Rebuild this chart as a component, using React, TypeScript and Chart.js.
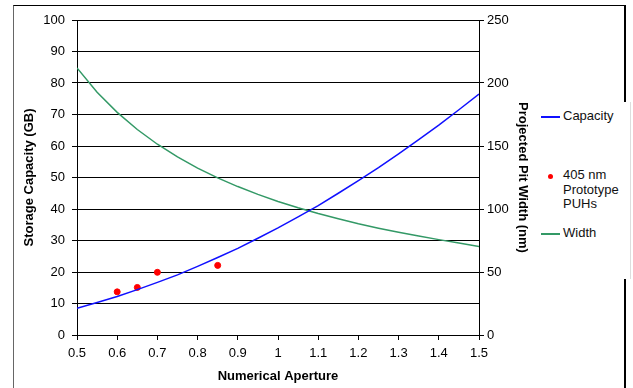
import React, { useEffect, useRef } from "react";
import { Chart, registerables } from "chart.js";

Chart.register(...registerables);

const apertures = [0.5, 0.55, 0.6, 0.65, 0.7, 0.75, 0.8, 0.85, 0.9, 0.95, 1.0, 1.05, 1.1, 1.15, 1.2, 1.25, 1.3, 1.35, 1.4, 1.45, 1.5];
const capacity = [8.5, 10.3, 12.2, 14.4, 16.7, 19.1, 21.8, 24.6, 27.5, 30.7, 34.0, 37.5, 41.1, 45.0, 49.0, 53.1, 57.5, 62.0, 66.6, 71.5, 76.5];
const pitWidth = [212, 192.7, 176.7, 163.1, 151.4, 141.3, 132.5, 124.7, 117.8, 111.6, 106, 101, 96.4, 92.2, 88.3, 84.8, 81.5, 78.5, 75.7, 73.1, 70.2];
const protoNA = [0.6, 0.65, 0.7, 0.85];
const protoCapacity = [13.7, 15.1, 19.9, 22.1];

const FONT = "'Liberation Sans', Arial, sans-serif";

export default function App() {
  const ref = useRef<HTMLCanvasElement>(null);
  useEffect(() => {
    if (!ref.current) return;
    const chart = new Chart(ref.current, {
      type: "line",
      data: {
        datasets: [
          {
            label: "Capacity",
            data: apertures.map((x, i) => ({ x, y: capacity[i] })),
            borderColor: "#1010ff",
            borderWidth: 1.5,
            pointRadius: 0,
            yAxisID: "y",
            tension: 0,
          },
          {
            label: "405 nm Prototype PUHs",
            type: "scatter",
            data: protoNA.map((x, i) => ({ x, y: protoCapacity[i] })),
            backgroundColor: "#ff0000",
            borderColor: "#ff0000",
            pointRadius: 3,
            showLine: false,
            yAxisID: "y",
          },
          {
            label: "Width",
            data: apertures.map((x, i) => ({ x, y: pitWidth[i] })),
            borderColor: "#339966",
            borderWidth: 1.5,
            pointRadius: 0,
            yAxisID: "y1",
            tension: 0,
          },
        ],
      },
      options: {
        animation: false,
        responsive: false,
        maintainAspectRatio: false,
        layout: { padding: { left: 14, right: 103, top: 20, bottom: 4 } },
        plugins: { legend: { display: false }, tooltip: { enabled: false } },
        scales: {
          x: {
            type: "linear",
            min: 0.5,
            max: 1.5,
            afterFit: (s: any) => { s.height = 49; },
            ticks: {
              stepSize: 0.1,
              color: "#000",
              padding: 6,
              font: { family: FONT, size: 13 },
              callback: (v: any) => String(Number(Number(v).toFixed(1))),
            },
            grid: { drawOnChartArea: false, drawTicks: true, tickLength: 5, color: "#000" },
            border: { color: "#000", width: 1 },
            title: {
              display: true,
              text: "Numerical Aperture",
              color: "#000",
              padding: { top: 0, bottom: 0 },
              font: { family: FONT, size: 13, weight: "bold" },
            },
          },
          y: {
            position: "left",
            min: 0,
            max: 100,
            afterFit: (s: any) => { s.width = 63; },
            ticks: { stepSize: 10, color: "#000", padding: 7, font: { family: FONT, size: 13 } },
            grid: { color: "#000", tickLength: 5, lineWidth: 1 },
            border: { color: "#000", width: 1 },
            title: {
              display: true,
              text: "Storage Capacity (GB)",
              color: "#000",
              padding: { top: 8, bottom: 0 },
              font: { family: FONT, size: 13, weight: "bold" },
            },
          },
          y1: {
            position: "right",
            min: 0,
            max: 250,
            afterFit: (s: any) => { s.width = 51; },
            ticks: { stepSize: 50, color: "#000", padding: 3, font: { family: FONT, size: 13 } },
            grid: { drawOnChartArea: false, color: "#000", tickLength: 5 },
            border: { color: "#000", width: 1 },
            title: {
              display: true,
              text: "Projected Pit Width (nm)",
              color: "#000",
              padding: { top: 0, bottom: 0 },
              font: { family: FONT, size: 13, weight: "bold" },
            },
          },
        },
      },
    });
    return () => chart.destroy();
  }, []);

  const legendText: React.CSSProperties = {
    position: "absolute",
    left: 563,
    fontFamily: FONT,
    fontSize: 13,
    lineHeight: "14.5px",
    color: "#111",
    whiteSpace: "nowrap",
  };

  return (
    <div style={{ position: "fixed", left: 0, top: 0, width: 633, height: 388, background: "#fff", overflow: "hidden" }}>
      <div
        style={{
          position: "absolute",
          left: 13,
          top: 5,
          width: 610,
          height: 420,
          borderLeft: "1px solid #666",
          borderTop: "1px solid #000",
          borderRight: "2px solid #000",
        }}
      />
      <canvas ref={ref} width={633} height={388} style={{ position: "absolute", left: 0, top: 0, width: 633, height: 388 }} />
      <div
        style={{
          position: "absolute",
          left: 538,
          top: 102,
          width: 92,
          height: 177,
          background: "#fff",
          borderRight: "1px solid #ddd",
        }}
      />
      <div style={{ position: "absolute", left: 541, top: 116, width: 19, height: 1.5, background: "#1010ff" }} />
      <div style={{ ...legendText, top: 109 }}>Capacity</div>
      <div style={{ position: "absolute", left: 547.5, top: 173.5, width: 5, height: 5, borderRadius: "50%", background: "#ff0000" }} />
      <div style={{ ...legendText, top: 168 }}>
        405 nm
        <br />
        Prototype
        <br />
        PUHs
      </div>
      <div style={{ position: "absolute", left: 541, top: 233, width: 19, height: 1.5, background: "#339966" }} />
      <div style={{ ...legendText, top: 226 }}>Width</div>
    </div>
  );
}
